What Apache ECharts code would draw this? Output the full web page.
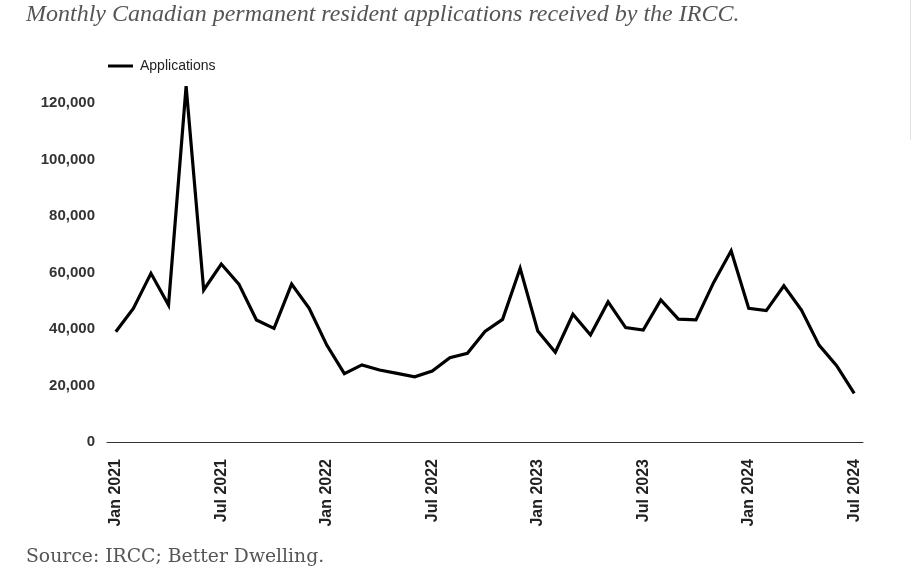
<!DOCTYPE html>
<html>
<head>
<meta charset="utf-8">
<script src="https://cdn.jsdelivr.net/npm/echarts@6/dist/echarts.min.js"></script>
<style>
html,body{margin:0;padding:0;background:#fff;}
#chart{width:918px;height:586px;}
</style>
</head>
<body>
<div id="chart"></div>
<script>
const months = [
  'Jan 2021','Feb 2021','Mar 2021','Apr 2021','May 2021','Jun 2021','Jul 2021','Aug 2021','Sep 2021','Oct 2021','Nov 2021','Dec 2021',
  'Jan 2022','Feb 2022','Mar 2022','Apr 2022','May 2022','Jun 2022','Jul 2022','Aug 2022','Sep 2022','Oct 2022','Nov 2022','Dec 2022',
  'Jan 2023','Feb 2023','Mar 2023','Apr 2023','May 2023','Jun 2023','Jul 2023','Aug 2023','Sep 2023','Oct 2023','Nov 2023','Dec 2023',
  'Jan 2024','Feb 2024','Mar 2024','Apr 2024','May 2024','Jun 2024','Jul 2024'
];
const applications = [
  39000, 47300, 59700, 48500, 126000, 53800, 63000, 55900, 43200, 40200, 55900, 47300,
  34300, 24200, 27300, 25500, 24300, 23100, 25100, 29800, 31400, 39100, 43400, 61500,
  39300, 31800, 45200, 37900, 49600, 40500, 39600, 50300, 43500, 43200, 56400, 67700,
  47300, 46500, 55300, 46700, 34300, 27000, 17200
];
const yTicks = [0, 20000, 40000, 60000, 80000, 100000, 120000];

const chart = echarts.init(document.getElementById('chart'), null, {renderer: 'canvas'});
chart.setOption({
  animation: false,
  backgroundColor: '#ffffff',
  title: [{
    text: 'Monthly Canadian permanent resident applications received by the IRCC.',
    left: 26, top: 3, padding: 0,
    textStyle: {fontFamily: 'Liberation Serif', fontStyle: 'italic', fontWeight: 'normal', fontSize: 24, color: '#555555'}
  }, {
    text: 'Source: IRCC; Better Dwelling.',
    left: 26, top: 548, padding: 0,
    textStyle: {fontFamily: 'DejaVu Serif', fontWeight: 'normal', fontSize: 18.8, color: '#555555'}
  }],
  legend: {
    left: 108, top: 59, padding: 0,
    icon: 'rect',
    itemWidth: 25, itemHeight: 3, itemGap: 10,
    textStyle: {fontFamily: 'Liberation Sans', fontSize: 14, color: '#222', padding: [0, 0, 0, 2]},
    data: ['Applications']
  },
  grid: {left: 107, right: 55, top: 80.4, bottom: 144, containLabel: false},
  xAxis: {
    type: 'category',
    data: months,
    boundaryGap: true,
    axisLine: {lineStyle: {color: '#333', width: 1}},
    axisTick: {show: false},
    axisLabel: {
      interval: 5, rotate: 90, margin: 17,
      fontFamily: 'Liberation Sans', fontWeight: 'bold', fontSize: 16, color: '#222'
    },
    splitLine: {show: false}
  },
  yAxis: {
    type: 'value',
    min: 0, max: 128000, interval: 20000,
    axisLine: {show: false},
    axisTick: {show: false},
    splitLine: {show: false},
    axisLabel: {
      showMaxLabel: false, margin: 12,
      fontFamily: 'Liberation Sans', fontWeight: 'bold', fontSize: 15, color: '#333',
      formatter: function (v) { return yTicks.indexOf(v) >= 0 ? v.toLocaleString('en-US') : ''; }
    }
  },
  series: [{
    name: 'Applications',
    type: 'line',
    data: applications,
    symbol: 'none',
    showSymbol: false,
    lineStyle: {color: '#000', width: 3.2, join: 'miter'},
    itemStyle: {color: '#000'}
  }],
  graphic: [{
    type: 'line',
    shape: {x1: 910.5, y1: 0, x2: 910.5, y2: 140},
    style: {stroke: '#e2e2e2', lineWidth: 1}
  }]
});
</script>
</body>
</html>
